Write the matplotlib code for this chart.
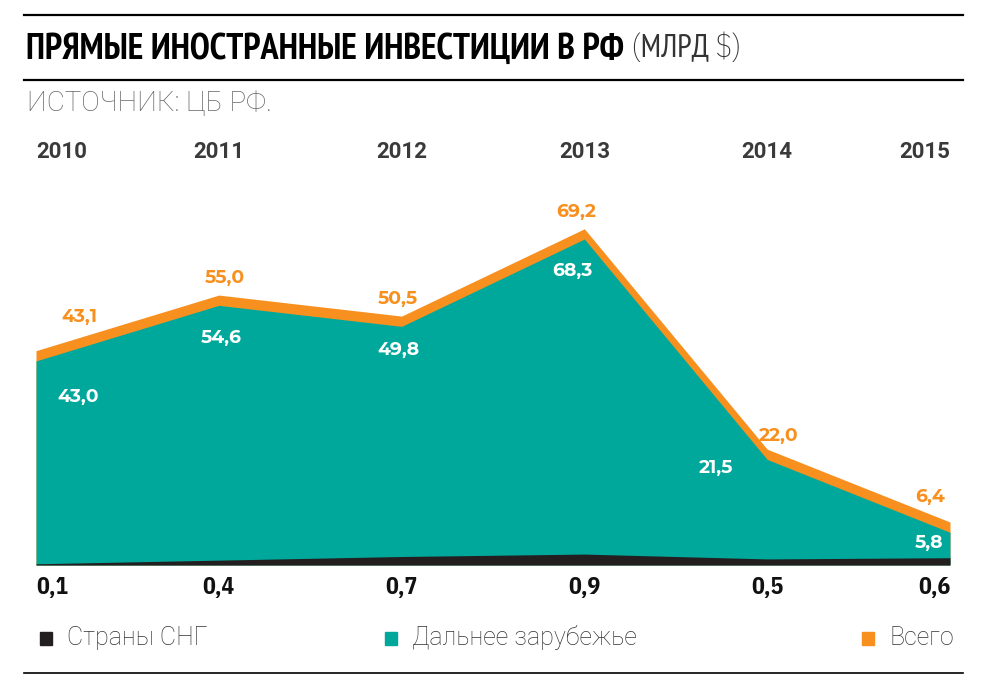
import numpy as np
import matplotlib.pyplot as plt

years = ["2010", "2011", "2012", "2013", "2014", "2015"]
cis = [0.1, 0.4, 0.7, 0.9, 0.5, 0.6]
far_abroad = [43.0, 54.6, 49.8, 68.3, 21.5, 5.8]
total = [43.1, 55.0, 50.5, 69.2, 22.0, 6.4]

cis_lbl = ["0,1", "0,4", "0,7", "0,9", "0,5", "0,6"]
far_lbl = ["43,0", "54,6", "49,8", "68,3", "21,5", "5,8"]
total_lbl = ["43,1", "55,0", "50,5", "69,2", "22,0", "6,4"]

TEAL = "#00a89c"
ORANGE = "#f7901e"
BLACK = "#231f20"
COND = ["IBM Plex Sans Condensed", "PT Sans Narrow", "DejaVu Sans"]
NUM = ["Montserrat Alternates", "Poppins", "DejaVu Sans"]
SANS = ["Roboto", "DejaVu Sans"]

W, H = 988, 684
fig = plt.figure(figsize=(W / 100, H / 100), dpi=100)

def fx(x):
    return x / W

def fy(y):
    return 1 - y / H

# chart area in pixels
left, right, top, base = 36, 950, 180, 565
scale = 4.67   # px per unit
floor = -2.8   # area starts a little below zero, like the original
ax = fig.add_axes([fx(left), fy(base), fx(right - left), (base - top) / H])
x = np.arange(len(years))
tot = np.array(total)
band = 2.2  # visual thickness of the orange band, data units
ax.fill_between(x, floor, tot, color=ORANGE, lw=0)
ax.fill_between(x, floor, tot - band, color=TEAL, lw=0)
ax.fill_between(x, floor, floor + np.array(cis) * 2.6, color=BLACK, lw=0)
ax.set_xlim(0, len(years) - 1)
ax.set_ylim(floor, floor + (base - top) / scale)
ax.axis("off")

xt = ax.get_xaxis_transform()
for i in x:
    ha = "left" if i == 0 else ("right" if i == len(years) - 1 else "center")
    ax.text(i, (base - 152) / (base - top), years[i], transform=xt, ha=ha, va="center",
            fontsize=16, fontweight="bold", family=SANS, color="#3a3a3a")
    ax.text(i, (base - 587) / (base - top), cis_lbl[i], transform=xt, ha=ha, va="center",
            fontsize=17, fontweight="bold", family=COND, color="#111111")

# label offsets in points
dx_tot = [31, 4, -3, -6, 8, -14]
dy_tot = [24, 12, 12, 12, 9, 18]
dx_far = [30, 2, -2, -9, -37, -15]
dy_far = [-26, -24, -17, -23, -6, -8]
for i in x:
    ax.annotate(total_lbl[i], (i, total[i]), xytext=(dx_tot[i], dy_tot[i]), textcoords="offset points",
                ha="center", va="center", fontsize=13.5, fontweight="bold", family=NUM, color=ORANGE)
    ax.annotate(far_lbl[i], (i, total[i] - band), xytext=(dx_far[i], dy_far[i]), textcoords="offset points",
                ha="center", va="center", fontsize=13.5, fontweight="bold", family=NUM, color="white")

# header
fig.add_artist(plt.Line2D([fx(24), fx(963)], [fy(15), fy(15)], color="black", lw=1.6))
fig.add_artist(plt.Line2D([fx(24), fx(963)], [fy(80), fy(80)], color="black", lw=1.6))
fig.add_artist(plt.Line2D([fx(24), fx(963)], [fy(673), fy(673)], color="black", lw=1.2))
t = fig.text(fx(26), fy(49), "ПРЯМЫЕ ИНОСТРАННЫЕ ИНВЕСТИЦИИ В РФ", ha="left", va="center",
             fontsize=26, fontweight="bold", family=COND, color="black")
fig.canvas.draw()
bb = t.get_window_extent()
fig.text((bb.x1 + 7) / W, fy(49), "(МЛРД $)", ha="left", va="center",
         fontsize=23, fontweight="light", family=COND, color="#333333")
fig.text(fx(27), fy(103), "ИСТОЧНИК: ЦБ РФ.", ha="left", va="center",
         fontsize=20, fontweight="light", family=SANS, color="#666666")

# legend
legend = [("Страны СНГ", BLACK, 40), ("Дальнее зарубежье", TEAL, 385), ("Всего", ORANGE, 862)]
for name, col, px in legend:
    fig.patches.append(plt.Rectangle((fx(px), fy(645)), 12 / W, 13 / H, color=col,
                                     transform=fig.transFigure, figure=fig))
    fig.text(fx(px + 27), fy(638), name, ha="left", va="center", fontsize=18,
             fontweight="light", family=SANS, color="#333333")

fig.savefig("out.png", dpi=100)
